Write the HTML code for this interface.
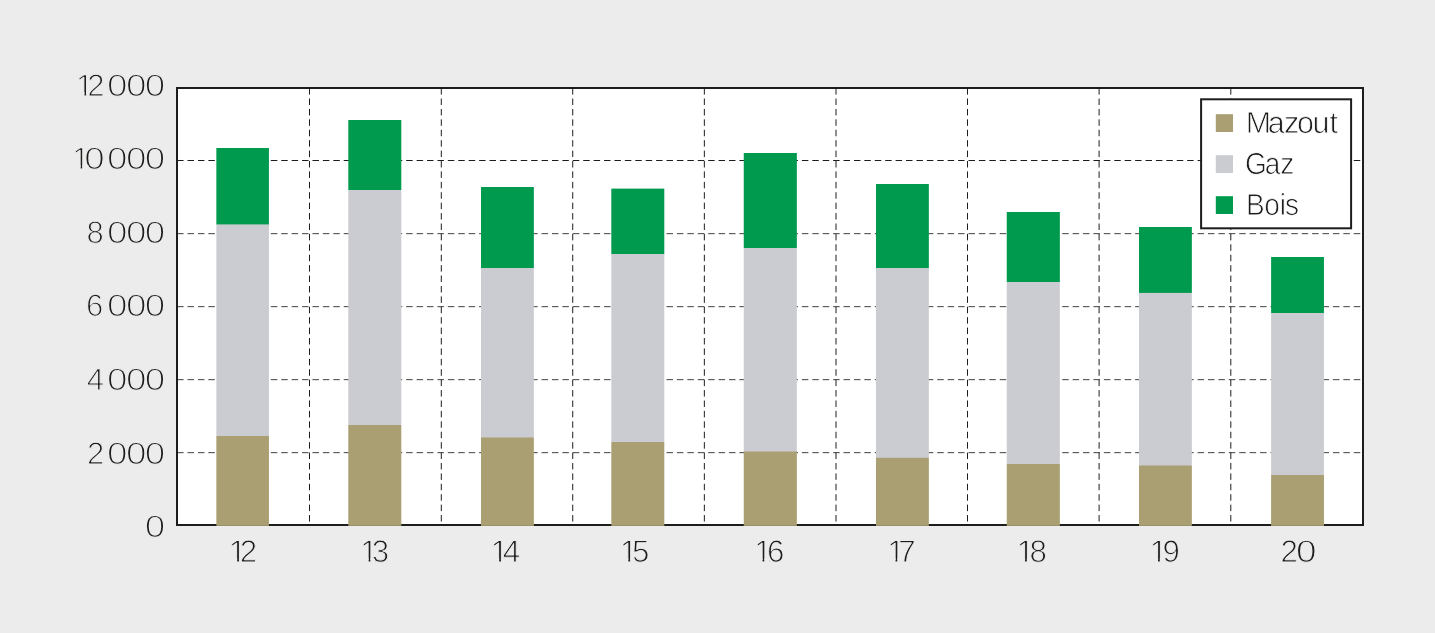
<!DOCTYPE html>
<html lang="fr"><head><meta charset="utf-8"><title>Chauffage</title>
<style>html,body{margin:0;padding:0;background:#ececec}svg{display:block}text{font-family:"Liberation Sans",sans-serif;fill:#1d1d1b;stroke-linejoin:round;text-rendering:geometricPrecision}</style></head><body>
<svg width="1435" height="633" viewBox="0 0 1435 633">
<rect width="1435" height="633" fill="#ececec"/>
<rect x="177" y="88" width="1186" height="437" fill="#fff" stroke="#1d1d1b" stroke-width="2"/>
<g stroke="#1d1d1b" stroke-width="1" stroke-dasharray="6.5 3.913" fill="none">
<path d="M177.1 160.5 H1363"/>
<path d="M177.1 233.66 H1363" stroke-width="0.85"/>
<path d="M177.1 306.66 H1363" stroke-width="0.85"/>
<path d="M177.1 379.66 H1363" stroke-width="0.85"/>
<path d="M177.1 452.66 H1363" stroke-width="0.85"/>
<path d="M309.5 88.1 V525"/>
<path d="M441.3 88.1 V525"/>
<path d="M572.72 88.1 V525"/>
<path d="M704.35 88.1 V525"/>
<path d="M836.0 88.1 V525"/>
<path d="M967.5 88.1 V525"/>
<path d="M1099.1 88.1 V525"/>
<path d="M1230.8 88.1 V525"/>
</g>
<defs><linearGradient id="b0" gradientUnits="userSpaceOnUse" x1="0" y1="148" x2="0" y2="525.9"><stop offset="0.20085" stop-color="#009a4e"/><stop offset="0.20349" stop-color="#cbccd1"/><stop offset="0.76078" stop-color="#cbccd1"/><stop offset="0.76343" stop-color="#a99f73"/></linearGradient><linearGradient id="b1" gradientUnits="userSpaceOnUse" x1="0" y1="120" x2="0" y2="525.9"><stop offset="0.17122" stop-color="#009a4e"/><stop offset="0.17369" stop-color="#cbccd1"/><stop offset="0.75018" stop-color="#cbccd1"/><stop offset="0.75265" stop-color="#a99f73"/></linearGradient><linearGradient id="b2" gradientUnits="userSpaceOnUse" x1="0" y1="187" x2="0" y2="525.9"><stop offset="0.23753" stop-color="#009a4e"/><stop offset="0.24048" stop-color="#cbccd1"/><stop offset="0.73768" stop-color="#cbccd1"/><stop offset="0.74063" stop-color="#a99f73"/></linearGradient><linearGradient id="b3" gradientUnits="userSpaceOnUse" x1="0" y1="188.6" x2="0" y2="525.9"><stop offset="0.19241" stop-color="#009a4e"/><stop offset="0.19538" stop-color="#cbccd1"/><stop offset="0.74978" stop-color="#cbccd1"/><stop offset="0.75274" stop-color="#a99f73"/></linearGradient><linearGradient id="b4" gradientUnits="userSpaceOnUse" x1="0" y1="153" x2="0" y2="525.9"><stop offset="0.25342" stop-color="#009a4e"/><stop offset="0.25610" stop-color="#cbccd1"/><stop offset="0.79914" stop-color="#cbccd1"/><stop offset="0.80182" stop-color="#a99f73"/></linearGradient><linearGradient id="b5" gradientUnits="userSpaceOnUse" x1="0" y1="184" x2="0" y2="525.9"><stop offset="0.24422" stop-color="#009a4e"/><stop offset="0.24715" stop-color="#cbccd1"/><stop offset="0.79936" stop-color="#cbccd1"/><stop offset="0.80228" stop-color="#a99f73"/></linearGradient><linearGradient id="b6" gradientUnits="userSpaceOnUse" x1="0" y1="212" x2="0" y2="525.9"><stop offset="0.22141" stop-color="#009a4e"/><stop offset="0.22459" stop-color="#cbccd1"/><stop offset="0.80121" stop-color="#cbccd1"/><stop offset="0.80440" stop-color="#a99f73"/></linearGradient><linearGradient id="b7" gradientUnits="userSpaceOnUse" x1="0" y1="227" x2="0" y2="525.9"><stop offset="0.21880" stop-color="#009a4e"/><stop offset="0.22215" stop-color="#cbccd1"/><stop offset="0.79625" stop-color="#cbccd1"/><stop offset="0.79960" stop-color="#a99f73"/></linearGradient><linearGradient id="b8" gradientUnits="userSpaceOnUse" x1="0" y1="257" x2="0" y2="525.9"><stop offset="0.20640" stop-color="#009a4e"/><stop offset="0.21012" stop-color="#cbccd1"/><stop offset="0.80885" stop-color="#cbccd1"/><stop offset="0.81257" stop-color="#a99f73"/></linearGradient></defs>
<rect x="216.35" y="148" width="52.6" height="377.9" fill="url(#b0)"/>
<rect x="348.3" y="120" width="53.0" height="405.9" fill="url(#b1)"/>
<rect x="481.0" y="187" width="52.85" height="338.9" fill="url(#b2)"/>
<rect x="611.3" y="188.6" width="53.0" height="337.3" fill="url(#b3)"/>
<rect x="743.75" y="153" width="53.1" height="372.9" fill="url(#b4)"/>
<rect x="876.0" y="184" width="52.85" height="341.9" fill="url(#b5)"/>
<rect x="1006.75" y="212" width="53.1" height="313.9" fill="url(#b6)"/>
<rect x="1139.0" y="227" width="52.85" height="298.9" fill="url(#b7)"/>
<rect x="1271.1" y="257" width="52.85" height="268.9" fill="url(#b8)"/>
<rect x="1201.1" y="99.3" width="150.0" height="129.0" fill="#fff" stroke="#1d1d1b" stroke-width="2"/>
<rect x="1215.8" y="114.2" width="17.2" height="17.8" fill="#a99f73"/>
<text x="1245.70 1267.72 1284.02 1297.02 1312.54 1329.44" y="133" font-size="30.50" stroke="#fff" stroke-width="0.8">Mazout</text>
<rect x="1215.8" y="155.2" width="17.2" height="17.8" fill="#cbccd1"/>
<text transform="scale(0.92 1)" x="1353.24 1374.62 1391.48" y="174" font-size="30.50" stroke="#fff" stroke-width="0.8">Gaz</text>
<rect x="1215.8" y="196.2" width="17.2" height="17.8" fill="#009a4e"/>
<text transform="scale(0.92 1)" x="1354.22 1374.07 1391.02 1396.69" y="215" font-size="30.50" stroke="#fff" stroke-width="0.8">Bois</text>
<text y="96" font-size="31.07" stroke="#ececec" stroke-width="1.1"><tspan x="76.12 87.36 104.64">12 </tspan><tspan x="107.04 125.94 144.71" textLength="61.44" lengthAdjust="spacingAndGlyphs" stroke-width="1.2">000</tspan></text><rect x="77.49" y="92.43" width="7.00" height="4.57" fill="#ececec"/><rect x="86.12" y="92.43" width="3.28" height="4.57" fill="#ececec"/>
<text y="169" font-size="31.07" stroke="#ececec" stroke-width="1.1"><tspan x="72.22">1</tspan><tspan x="84.16 104.64 107.04 125.94 144.71" textLength="92.14" lengthAdjust="spacingAndGlyphs" stroke-width="1.2">0 000</tspan></text><rect x="73.59" y="165.43" width="7.00" height="4.57" fill="#ececec"/><rect x="82.22" y="165.43" width="6.58" height="4.57" fill="#ececec"/>
<text y="243" font-size="31.07" stroke="#ececec" stroke-width="1.1"><tspan x="86.61 103.89">8 </tspan><tspan x="107.04 125.94 144.71" textLength="61.44" lengthAdjust="spacingAndGlyphs" stroke-width="1.2">000</tspan></text>
<text y="316" font-size="31.07" stroke="#ececec" stroke-width="1.1"><tspan x="86.05 103.33">6 </tspan><tspan x="107.04 125.94 144.71" textLength="61.44" lengthAdjust="spacingAndGlyphs" stroke-width="1.2">000</tspan></text>
<text y="390" font-size="31.07" stroke="#ececec" stroke-width="1.1"><tspan x="86.81 104.09">4 </tspan><tspan x="107.04 125.94 144.71" textLength="61.44" lengthAdjust="spacingAndGlyphs" stroke-width="1.2">000</tspan></text>
<text y="464" font-size="31.07" stroke="#ececec" stroke-width="1.1"><tspan x="87.11 104.39">2 </tspan><tspan x="107.04 125.94 144.71" textLength="61.44" lengthAdjust="spacingAndGlyphs" stroke-width="1.2">000</tspan></text>
<text y="537" font-size="31.07" stroke="#ececec" stroke-width="1.1"><tspan x="144.71" textLength="20.48" lengthAdjust="spacingAndGlyphs" stroke-width="1.2">0</tspan></text>
<text y="562" font-size="31.30" stroke="#ececec" stroke-width="0.95"><tspan x="228.85 239.80">12</tspan></text><rect x="230.24" y="558.49" width="6.96" height="4.51" fill="#ececec"/><rect x="239.00" y="558.49" width="2.50" height="4.51" fill="#ececec"/>
<text y="562" font-size="31.30" stroke="#ececec" stroke-width="0.95"><tspan x="360.25 371.84">13</tspan></text><rect x="361.64" y="558.49" width="6.96" height="4.51" fill="#ececec"/><rect x="370.40" y="558.49" width="4.70" height="4.51" fill="#ececec"/>
<text y="562" font-size="31.30" stroke="#ececec" stroke-width="0.95"><tspan x="490.85 502.80">14</tspan></text><rect x="492.24" y="558.49" width="6.96" height="4.51" fill="#ececec"/><rect x="501.00" y="558.49" width="6.72" height="4.51" fill="#ececec"/>
<text y="562" font-size="31.30" stroke="#ececec" stroke-width="0.95"><tspan x="619.95 632.03">15</tspan></text><rect x="621.34" y="558.49" width="6.96" height="4.51" fill="#ececec"/><rect x="630.10" y="558.49" width="5.10" height="4.51" fill="#ececec"/>
<text y="562" font-size="31.30" stroke="#ececec" stroke-width="0.95"><tspan x="754.15 766.89">16</tspan></text><rect x="755.54" y="558.49" width="6.96" height="4.51" fill="#ececec"/><rect x="764.30" y="558.49" width="5.50" height="4.51" fill="#ececec"/>
<text y="562" font-size="31.30" stroke="#ececec" stroke-width="0.95"><tspan x="887.15 898.18">17</tspan></text><rect x="888.54" y="558.49" width="6.96" height="4.51" fill="#ececec"/><rect x="897.30" y="558.49" width="6.10" height="4.51" fill="#ececec"/>
<text y="562" font-size="31.30" stroke="#ececec" stroke-width="0.95"><tspan x="1016.65 1029.50">18</tspan></text><rect x="1018.04" y="558.49" width="6.96" height="4.51" fill="#ececec"/><rect x="1026.80" y="558.49" width="5.30" height="4.51" fill="#ececec"/>
<text y="562" font-size="31.30" stroke="#ececec" stroke-width="0.95"><tspan x="1149.65 1162.50">19</tspan></text><rect x="1151.04" y="558.49" width="6.96" height="4.51" fill="#ececec"/><rect x="1159.80" y="558.49" width="5.30" height="4.51" fill="#ececec"/>
<text y="562" font-size="31.30" stroke="#ececec" stroke-width="0.95"><tspan x="1280.40">2</tspan><tspan x="1295.98" textLength="20.54" lengthAdjust="spacingAndGlyphs" stroke-width="1.05">0</tspan></text>
</svg></body></html>
